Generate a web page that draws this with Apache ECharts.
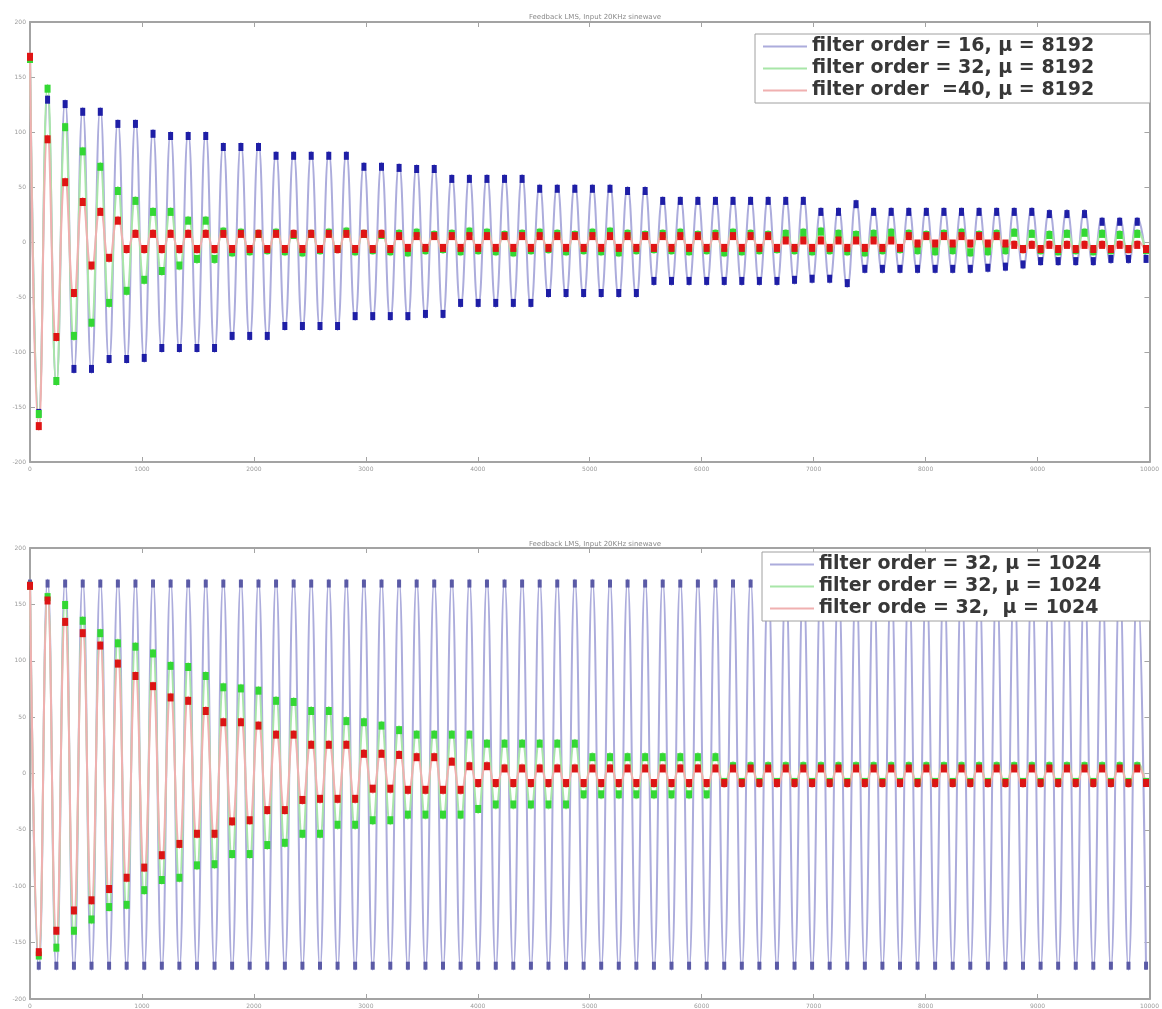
<!DOCTYPE html>
<html>
<head>
<meta charset="utf-8">
<script src="https://cdn.jsdelivr.net/npm/echarts@6/dist/echarts.min.js"></script>
<style>
html,body{margin:0;padding:0;background:#ffffff;}
#chart{width:1162px;height:1009px;}
</style>
</head>
<body>
<div id="chart"></div>
<script>
// ---------- texts ----------
const chartTitles = ['Feedback LMS, Input 20KHz sinewave', 'Feedback LMS, Input 20KHz sinewave'];
const topLabels = ['filter order = 16, \u03bc = 8192', 'filter order = 32, \u03bc = 8192', 'filter order  =40, \u03bc = 8192'];
const botLabels = ['filter order = 32, \u03bc = 1024', 'filter order = 32, \u03bc = 1024', 'filter orde = 32,  \u03bc = 1024'];
const topIds = ['top16', 'top32', 'top40'];
const botIds = ['botA', 'botB', 'botC'];

// ---------- axes ----------
const xMin = 0, xMax = 10000, xStep = 1000;
const yMin = -200, yMax = 200, yStep = 50;
// time between successive extremes (peak, trough, peak, ...) of the sinewave
const halfPeriod = 78.5;

// ---------- top panel (mu = 8192): value of each peak / trough ----------
const topBluePeaks = [170,133,129,122,122,111,111,102,100,100, 100,90,90,90,82,82,82,82,82,72,
  72,71,70,70,61,61,61,61,61,52, 52,52,52,52,50,50,41,41,41,41, 41,41,41,41,41,31,31,38,31,31,
  31,31,31,31,31,31,31,31,29,29, 29,22,22,22];
const topBlueTroughs = [-159,-130,-119,-119,-110,-110,-109,-100,-100,-100, -100,-89,-89,-89,-80,-80,-80,-80,-71,-71,
  -71,-71,-69,-69,-59,-59,-59,-59,-59,-50, -50,-50,-50,-50,-50,-39,-39,-39,-39,-39, -39,-39,-39,-38,-37,-37,-41,-28,-28,-28,
  -28,-28,-28,-28,-27,-26,-24,-21,-21,-21, -21,-19,-19,-19];
const topGreenPeaks = [170,143,108,86,72,50,41,31,31,23, 23,13,12,11,12,10,11,12,13,11,
  10,11,12,10,11,13,12,10,11,12, 11,10,12,13,11,10,11,12,10,11, 12,11,10,11,12,13,11,10,11,12,
  11,10,11,12,10,11,12,11,10,11, 12,11,10,11];
const topGreenTroughs = [-160,-130,-89,-77,-59,-48,-38,-30,-25,-19, -19,-13,-12,-11,-12,-13,-11,-10,-12,-11,
  -12,-13,-11,-10,-12,-11,-12,-13,-11,-10, -12,-11,-12,-13,-11,-10,-11,-12,-11,-13, -12,-11,-10,-11,-12,-11,-12,-13,-11,-10,
  -11,-12,-11,-13,-12,-11,-10,-11,-12,-11, -12,-11,-10,-11];
const topRedPeaks = [172,97,58,40,31,23,11,11,11,11, 11,11,11,11,11,11,11,11,11,11,
  11,9,9,9,9,9,9,9,9,9, 9,9,9,9,9,9,9,9,9,9, 9,9,9,5,5,5,5,5,5,5,
  9,9,9,9,9,9,1,1,1,1, 1,1,1,1];
const topRedTroughs = [-171,-90,-50,-25,-18,-10,-10,-10,-10,-10, -10,-10,-10,-10,-10,-10,-10,-10,-10,-10,
  -10,-9,-9,-9,-9,-9,-9,-9,-9,-9, -9,-9,-9,-9,-9,-9,-9,-9,-9,-9, -9,-9,-9,-9,-9,-9,-9,-9,-9,-9,
  -5,-5,-5,-5,-5,-5,-10,-10,-10,-10, -10,-10,-10,-10];

// ---------- bottom panel (mu = 1024) ----------
const botBluePeaks = [172,172,172,172,172,172,172,172,172,172, 172,172,172,172,172,172,172,172,172,172,
  172,172,172,172,172,172,172,172,172,172, 172,172,172,172,172,172,172,172,172,172, 172,172,172,172,172,172,172,172,172,172,
  172,172,172,172,172,172,172,172,172,172, 172,172,172,172];
const botBlueTroughs = [-174,-174,-174,-174,-174,-174,-174,-174,-174,-174, -174,-174,-174,-174,-174,-174,-174,-174,-174,-174,
  -174,-174,-174,-174,-174,-174,-174,-174,-174,-174, -174,-174,-174,-174,-174,-174,-174,-174,-174,-174, -174,-174,-174,-174,-174,-174,-174,-174,-174,-174,
  -174,-174,-174,-174,-174,-174,-174,-174,-174,-174, -174,-174,-174,-174];
const botGreenPeaks = [170,160,153,139,128,119,116,110,99,98, 90,80,79,77,68,67,59,59,50,49,
  46,42,38,38,38,38,30,30,30,30, 30,30,18,18,18,18,18,18,18,18, 10,10,10,10,10,10,10,10,10,10,
  10,10,10,10,10,10,10,10,10,10, 10,10,10,10];
const botGreenTroughs = [-165,-158,-143,-133,-122,-120,-107,-98,-96,-85, -84,-75,-75,-67,-65,-57,-57,-49,-49,-45,
  -45,-40,-40,-40,-40,-35,-31,-31,-31,-31, -31,-22,-22,-22,-22,-22,-22,-22,-22,-11, -11,-11,-11,-11,-11,-11,-11,-11,-11,-11,
  -11,-11,-11,-11,-11,-11,-11,-11,-11,-11, -11,-11,-11,-11];
const botRedPeaks = [170,157,138,128,117,101,90,81,71,68, 59,49,49,46,38,38,29,29,29,21,
  21,20,18,18,14,10,10,8,8,8, 8,8,8,8,8,8,8,8,8,8, 8,8,8,8,8,8,8,8,8,8,
  8,8,8,8,8,8,8,8,8,8, 8,8,8,8];
const botRedTroughs = [-162,-143,-125,-116,-106,-96,-87,-76,-66,-57, -57,-46,-45,-36,-36,-27,-26,-26,-26,-17,
  -17,-18,-18,-18,-18,-12,-12,-12,-12,-12, -12,-12,-12,-12,-12,-12,-12,-12,-12,-12, -12,-12,-12,-12,-12,-12,-12,-12,-12,-12,
  -12,-12,-12,-12,-12,-12,-12,-12,-12,-12, -12,-12,-12,-12];

// ---------- build ----------
function pairUp(peaks, troughs) {
  const out = [];
  for (let k = 0; k < peaks.length; k++) {
    out.push({ value: [(2 * k) * halfPeriod, peaks[k]], symbolOffset: [0, 4] });
    out.push({ value: [(2 * k + 1) * halfPeriod, troughs[k]], symbolOffset: [0, -4] });
  }
  return out;
}

const labelMap = {};
topIds.forEach((id, i) => labelMap[id] = topLabels[i]);
botIds.forEach((id, i) => labelMap[id] = botLabels[i]);

const paleBlue = '#acacdc', paleGreen = '#a8e6a8', palePink = '#f0b0b0';

function mkSeries(id, data, axisIdx, lineColor, symColor, symSize) {
  return {
    name: id, type: 'line', xAxisIndex: axisIdx, yAxisIndex: axisIdx,
    data: data, smooth: 0.5, showSymbol: true, showAllSymbol: true,
    symbol: 'rect', symbolSize: symSize,
    itemStyle: { color: symColor },
    lineStyle: { color: lineColor, width: 2 },
    emphasis: { disabled: true }, silent: true, animation: false
  };
}

const axisGrey = '#a3a3a3';
function xAx(gridIndex, position, showLabel) {
  return {
    type: 'value', gridIndex, position, min: xMin, max: xMax, interval: xStep,
    axisLine: { show: true, onZero: false, lineStyle: { color: axisGrey, width: 2 } },
    axisTick: { show: true, inside: true, length: 5, lineStyle: { color: axisGrey, width: 1 } },
    axisLabel: { show: showLabel, fontSize: 6, color: '#9a9a9a', margin: 4, fontFamily: 'DejaVu Sans',
      formatter: v => String(v) },
    splitLine: { show: false }
  };
}
function yAx(gridIndex, position, showLabel) {
  return {
    type: 'value', gridIndex, position, min: yMin, max: yMax, interval: yStep,
    axisLine: { show: true, onZero: false, lineStyle: { color: axisGrey, width: 2 } },
    axisTick: { show: true, inside: true, length: 5, lineStyle: { color: axisGrey, width: 1 } },
    axisLabel: { show: showLabel, fontSize: 6, color: '#9a9a9a', margin: 4, fontFamily: 'DejaVu Sans',
      formatter: v => String(v) },
    splitLine: { show: false }
  };
}

function mkLegend(ids, colors, left, top, padRight) {
  return {
    data: ids.map((id, i) => ({ name: id, icon: 'rect', itemStyle: { color: colors[i] } })),
    formatter: name => labelMap[name],
    orient: 'vertical', left: left, top: top,
    itemWidth: 44, itemHeight: 2, itemGap: 3,
    padding: [3, padRight, 3, 8],
    backgroundColor: '#ffffff', borderColor: '#a0a0a0', borderWidth: 1, borderRadius: 0,
    selectedMode: false,
    textStyle: { fontFamily: 'DejaVu Sans', fontWeight: 'bold', fontSize: 19, color: '#383838', lineHeight: 19 }
  };
}

const option = {
  animation: false,
  backgroundColor: '#ffffff',
  title: [
    { text: chartTitles[0], left: 590, top: 9, textAlign: 'center',
      textStyle: { fontSize: 7, color: '#8a8a8a', fontWeight: 'normal', fontFamily: 'DejaVu Sans' } },
    { text: chartTitles[1], left: 590, top: 536, textAlign: 'center',
      textStyle: { fontSize: 7, color: '#8a8a8a', fontWeight: 'normal', fontFamily: 'DejaVu Sans' } }
  ],
  grid: [
    { left: 30, top: 22, width: 1120, height: 440 },
    { left: 30, top: 548, width: 1120, height: 451 }
  ],
  xAxis: [xAx(0, 'bottom', true), xAx(0, 'top', false), xAx(1, 'bottom', true), xAx(1, 'top', false)],
  yAxis: [yAx(0, 'left', true), yAx(0, 'right', false), yAx(1, 'left', true), yAx(1, 'right', false)],
  legend: [
    mkLegend(topIds, [paleBlue, paleGreen, palePink], 755, 34, 56),
    mkLegend(botIds, [paleBlue, paleGreen, palePink], 762, 552, 49)
  ],
  series: [
    mkSeries('top16', pairUp(topBluePeaks, topBlueTroughs), 0, paleBlue, '#1e1ea6', [5, 8]),
    mkSeries('top32', pairUp(topGreenPeaks, topGreenTroughs), 0, paleGreen, '#33d833', [6, 8]),
    mkSeries('top40', pairUp(topRedPeaks, topRedTroughs), 0, palePink, '#e01414', [6, 8]),
    mkSeries('botA', pairUp(botBluePeaks, botBlueTroughs), 2, paleBlue, '#5a5aa6', [4, 8]),
    mkSeries('botB', pairUp(botGreenPeaks, botGreenTroughs), 2, paleGreen, '#33d833', [6, 8]),
    mkSeries('botC', pairUp(botRedPeaks, botRedTroughs), 2, palePink, '#dc1414', [6, 8])
  ]
};

const chart = echarts.init(document.getElementById('chart'), null, { renderer: 'canvas' });
chart.setOption(option);
</script>
</body>
</html>
